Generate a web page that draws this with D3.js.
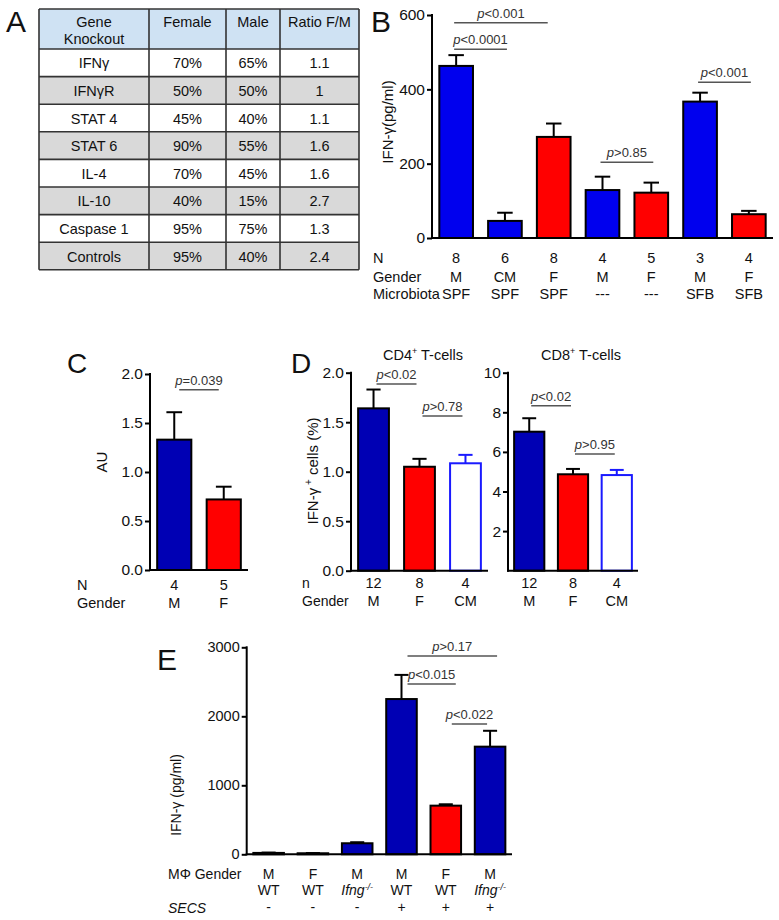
<!DOCTYPE html>
<html><head><meta charset="utf-8">
<script src="https://cdn.jsdelivr.net/npm/d3@7"></script>
<style>body{margin:0;background:#fff}svg{display:block;font-family:"Liberation Sans",Arial,sans-serif}</style>
</head><body><svg id="fig" width="779" height="920"></svg>
<script>
// ---------- DATA ----------
const tableHeader = [["Gene","Knockout"],["Female"],["Male"],["Ratio F/M"]];
const tableGenes  = ["IFNγ","IFNγR","STAT 4","STAT 6","IL-4","IL-10","Caspase 1","Controls"];
const tableFemale = ["70%","50%","45%","90%","70%","40%","95%","95%"];
const tableMale   = ["65%","50%","40%","55%","45%","15%","75%","40%"];
const tableRatio  = ["1.1","1","1.1","1.6","1.6","2.7","1.3","2.4"];

const bN          = ["8","6","8","4","5","3","4"];
const bGender     = ["M","CM","F","M","F","M","F"];
const bMicrobiota = ["SPF","SPF","SPF","---","---","SFB","SFB"];
const bMean       = [463,46,272,129,122,367,64];
const bSEM        = [29,22,36,36,27,24,9];
const bTicks      = [0,200,400,600];
const bSig        = [{a:0,b:2,y:579,t:"<0.001",x2:-8},{a:0,b:1,y:508,t:"<0.0001"},{a:3,b:4,y:204,t:">0.85"},{a:5,b:6,y:419,t:"<0.001"}];

const cN      = ["4","5"];
const cGender = ["M","F"];
const cMean   = [1.33,0.72];
const cSEM    = [0.28,0.13];
const cTicks  = [0,0.5,1.0,1.5,2.0];
const cSig    = [{a:0,b:1,y:1.84,t:"=0.039"}];

const dN       = ["12","8","4"];
const dGender  = ["M","F","CM"];
const d4Mean   = [1.64,1.05,1.085];
const d4SEM    = [0.19,0.08,0.085];
const d4Ticks  = [0,0.5,1.0,1.5,2.0];
const d4Sig    = [{a:0,b:1,y:1.886,t:"<0.02"},{a:1,b:2,y:1.563,t:">0.78"}];
const d8Mean   = [7.02,4.87,4.83];
const d8SEM    = [0.68,0.27,0.26];
const d8Ticks  = [2,4,6,8,10];
const d8Sig    = [{a:0,b:1,y:8.33,t:"<0.02"},{a:1,b:2,y:5.89,t:">0.95"}];

const eGender   = ["M","F","M","M","F","M"];
const eGenotype = ["WT","WT","Ifng","WT","WT","Ifng"];
const eSECS     = ["-","-","-","+","+","+"];
const eMean     = [20,15,160,2250,705,1560];
const eSEM      = [5,3,15,350,20,230];
const eTicks    = [0,1000,2000,3000];
const eSig      = [{a:3,b:5,y:2874,t:">0.17",x2:13},{a:3,b:4,y:2468,t:"<0.015",x2:16},{a:4,b:5,y:1888,t:"<0.022",x2:3}];

// ---------- STYLE ----------
const BLUE_B = "#0000ee", BLUE = "#0000b4", RED = "#ff0000";
const svg = d3.select("#fig");

function txt(g, x, y, s, size, anchor, extra){
  const t = g.append("text").attr("x",x).attr("y",y).attr("font-size",size)
    .attr("text-anchor",anchor||"start").attr("fill","#111").text(s);
  if(extra) extra(t);
  return t;
}

function barPanel(o){
  const g = svg.append("g");
  const y = d3.scaleLinear().domain([0,o.max]).range([o.y0,o.y1]);
  const idx = d3.range(o.mean.length);
  const x = d3.scaleBand().domain(idx).range([o.ax,o.axEnd]).paddingInner(o.pi).paddingOuter(o.po);
  const bw = x.bandwidth();
  const ax = d3.axisLeft(y).tickValues(o.ticks).tickSize(5).tickPadding(2).tickFormat(o.fmt);
  const ag = g.append("g").attr("transform",`translate(${o.ax},0)`).call(ax);
  ag.select(".domain").remove();
  ag.selectAll(".tick line").attr("stroke","#000").attr("stroke-width",2);
  ag.selectAll(".tick text").attr("font-size",o.fs).attr("fill","#111").attr("font-family","Liberation Sans, Arial, sans-serif");
  g.selectAll("rect.bar").data(idx).join("rect")
    .attr("x",i=>x(i)).attr("width",bw)
    .attr("y",i=>y(o.mean[i])).attr("height",i=>o.y0-y(o.mean[i]))
    .attr("fill",i=>o.fill(i)).attr("stroke",i=>o.stroke(i)).attr("stroke-width",2);
  idx.forEach(i=>{
    const cx = x(i)+bw/2, top = y(o.mean[i]+o.sem[i]), base = y(o.mean[i]);
    const col = o.stroke(i);
    g.append("line").attr("x1",cx).attr("x2",cx).attr("y1",base).attr("y2",top).attr("stroke",col).attr("stroke-width",2);
    g.append("line").attr("x1",cx-bw*0.23).attr("x2",cx+bw*0.23).attr("y1",top).attr("y2",top).attr("stroke",col).attr("stroke-width",2);
  });
  g.append("line").attr("x1",o.ax).attr("x2",o.ax).attr("y1",o.y1-1).attr("y2",o.y0+1).attr("stroke","#000").attr("stroke-width",2);
  g.append("line").attr("x1",o.ax-1).attr("x2",o.axEnd).attr("y1",o.y0).attr("y2",o.y0).attr("stroke","#000").attr("stroke-width",2);
  (o.sig||[]).forEach(s=>{
    const xa = x(s.a)+bw/2+(o.sdx||0), xb = x(s.b)+bw/2-(o.sdx||0)+(s.x2||0);
    const yy = y(s.y);
    g.append("line").attr("x1",xa).attr("x2",xb).attr("y1",yy).attr("y2",yy).attr("stroke","#555").attr("stroke-width",1.5);
    const t = g.append("text").attr("x",(xa+xb)/2).attr("y",yy-5).attr("text-anchor","middle").attr("font-size",o.sfs||13).attr("fill","#333");
    t.append("tspan").attr("font-style","italic").text("p");
    t.append("tspan").text(s.t);
  });
  return {g,x,y,bw};
}

// ---------- PANEL A (table) ----------
(function(){
  const g = svg.append("g");
  const cols = [39,149,226,280,359];
  const top = 9, headH = 40, rowH = 27.6;
  const rows = tableGenes.length;
  g.append("rect").attr("x",cols[0]).attr("y",top).attr("width",cols[4]-cols[0]).attr("height",headH).attr("fill","#cfe2f3");
  d3.range(rows).forEach(r=>{
    g.append("rect").attr("x",cols[0]).attr("y",top+headH+r*rowH).attr("width",cols[4]-cols[0]).attr("height",rowH)
      .attr("fill", r%2 ? "#d9d9d9" : "#ffffff");
  });
  const bottom = top+headH+rows*rowH;
  cols.forEach(c=>g.append("line").attr("x1",c).attr("x2",c).attr("y1",top).attr("y2",bottom).attr("stroke","#333").attr("stroke-width",1.6));
  d3.range(rows+1).forEach(r=>{
    const yy = r===0 ? top : top+headH+(r-1)*rowH;
    g.append("line").attr("x1",cols[0]).attr("x2",cols[4]).attr("y1",yy).attr("y2",yy).attr("stroke","#333").attr("stroke-width",1.6);
  });
  g.append("line").attr("x1",cols[0]).attr("x2",cols[4]).attr("y1",bottom).attr("y2",bottom).attr("stroke","#333").attr("stroke-width",1.6);
  tableHeader.forEach((h,ci)=>{
    const cx=(cols[ci]+cols[ci+1])/2;
    h.forEach((line,li)=>txt(g,cx,27+li*17,line,14.5,"middle"));
  });
  const colsData=[tableGenes,tableFemale,tableMale,tableRatio];
  colsData.forEach((arr,ci)=>{
    const cx=(cols[ci]+cols[ci+1])/2;
    arr.forEach((v,r)=>txt(g,cx,top+headH+r*rowH+rowH/2+5.5,v,14.5,"middle"));
  });
  txt(svg,6,32,"A",30);
})();

// ---------- PANEL B ----------
(function(){
  const p = barPanel({ax:432,axEnd:773,y0:238,y1:15,max:600,ticks:bTicks,fmt:d3.format("d"),fs:15.5,
    mean:bMean,sem:bSEM,pi:0.31,po:0.15,
    fill:i=>bGender[i]==="F"?RED:BLUE_B, stroke:()=>"#000", sig:bSig, sdx:-2});
  txt(svg,371,32,"B",30);
  txt(svg,393,122,"IFN-γ(pg/ml)",15,"middle",t=>t.attr("transform","rotate(-90,393,122)"));
  const rowsY=[263,281.5,299];
  txt(svg,373,rowsY[0],"N",14.5); txt(svg,373,rowsY[1],"Gender",14.5); txt(svg,373,rowsY[2],"Microbiota",14.5);
  [bN,bGender,bMicrobiota].forEach((arr,ri)=>arr.forEach((v,i)=>txt(svg,p.x(i)+p.bw/2,rowsY[ri],v,14.5,"middle")));
})();

// ---------- PANEL C ----------
(function(){
  const p = barPanel({ax:150,axEnd:248,y0:570,y1:374,max:2,ticks:cTicks,fmt:d3.format(".1f"),fs:15.5,
    mean:cMean,sem:cSEM,pi:0.31,po:0.145,
    fill:i=>cGender[i]==="F"?RED:BLUE, stroke:()=>"#000", sig:cSig, sdx:5});
  txt(svg,67,373,"C",28);
  txt(svg,107,462,"AU",15,"middle",t=>t.attr("transform","rotate(-90,107,462)"));
  txt(svg,77,590,"N",14.5); txt(svg,77,607.5,"Gender",14.5);
  [cN,cGender].forEach((arr,ri)=>arr.forEach((v,i)=>txt(svg,p.x(i)+p.bw/2,[590,607.5][ri],v,14.5,"middle")));
})();

// ---------- PANEL D ----------
(function(){
  const fillD = i=>dGender[i]==="F"?RED:(dGender[i]==="CM"?"#ffffff":BLUE);
  const strokeD = i=>dGender[i]==="CM"?"#1a1aff":"#000";
  const p4 = barPanel({ax:351,axEnd:488,y0:570.7,y1:372.7,max:2,ticks:d4Ticks,fmt:d3.format(".1f"),fs:15.5,
    mean:d4Mean,sem:d4SEM,pi:0.33,po:0.155,fill:fillD,stroke:strokeD,sig:d4Sig,sdx:3});
  const p8 = barPanel({ax:508,axEnd:638,y0:570.7,y1:372.7,max:10,ticks:d8Ticks,fmt:d3.format("d"),fs:15.5,
    mean:d8Mean,sem:d8SEM,pi:0.31,po:0.14,fill:fillD,stroke:strokeD,sig:d8Sig,sdx:2});
  txt(svg,291,373,"D",28);
  [[423,"CD4"],[581,"CD8"]].forEach(([cx,s])=>{
    const t = txt(svg,cx,360,"",14.5,"middle");
    t.append("tspan").text(s);
    t.append("tspan").attr("font-size",9).attr("dy",-6).text("+");
    t.append("tspan").attr("dy",6).text(" T-cells");
  });
  const ly = txt(svg,318,471,"",15,"middle",t=>t.attr("transform","rotate(-90,318,471)"));
  ly.append("tspan").text("IFN-γ");
  ly.append("tspan").attr("font-size",10).attr("dy",-6).text(" +");
  ly.append("tspan").attr("dy",6).text(" cells (%)");
  txt(svg,302,588,"n",14); txt(svg,302,605.5,"Gender",14);
  [p4,p8].forEach(p=>{
    [dN,dGender].forEach((arr,ri)=>arr.forEach((v,i)=>txt(svg,p.x(i)+p.bw/2,[588,605.5][ri],v,14.5,"middle")));
  });
})();

// ---------- PANEL E ----------
(function(){
  const p = barPanel({ax:246.7,axEnd:512,y0:854.3,y1:647.3,max:3000,ticks:eTicks,fmt:d3.format("d"),fs:14.5,
    mean:eMean,sem:eSEM,pi:0.31,po:0.15,
    fill:i=>eGender[i]==="F"?RED:BLUE, stroke:()=>"#000", sig:eSig, sdx:6});
  txt(svg,157,670,"E",30);
  txt(svg,181,795,"IFN-γ (pg/ml)",14,"middle",t=>t.attr("transform","rotate(-90,181,795)"));
  txt(svg,168,879,"MΦ Gender",14);
  txt(svg,168,913,"SECS",14,"start",t=>t.attr("font-style","italic"));
  eGender.forEach((v,i)=>txt(svg,p.x(i)+p.bw/2,879,v,14,"middle"));
  eGenotype.forEach((v,i)=>{
    const t = txt(svg,p.x(i)+p.bw/2,895,"",14,"middle");
    if(v==="Ifng"){
      t.attr("font-style","italic");
      t.append("tspan").text("Ifng");
      t.append("tspan").attr("font-size",9).attr("dy",-5).text("-/-");
    } else t.text(v);
  });
  eSECS.forEach((v,i)=>txt(svg,p.x(i)+p.bw/2,912,v,14,"middle"));
})();
</script></body></html>
